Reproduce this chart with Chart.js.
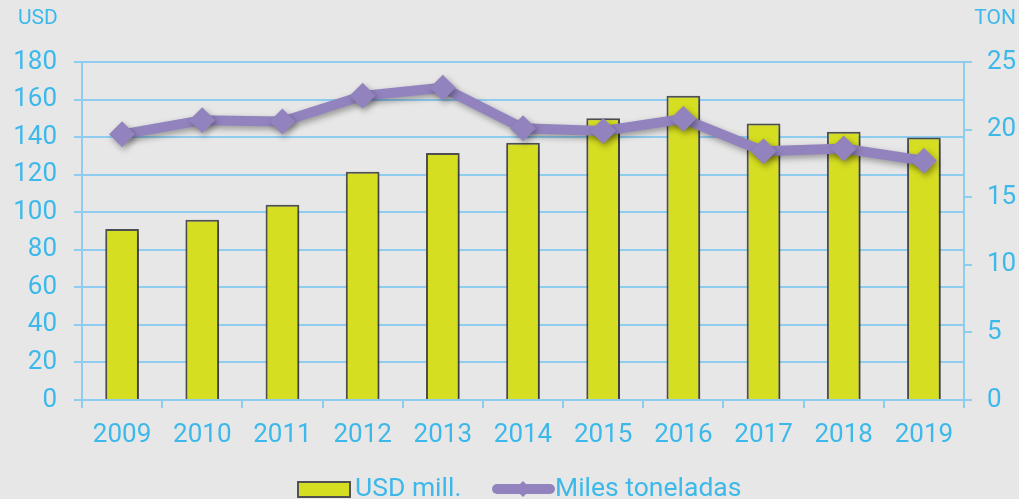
<!DOCTYPE html>
<html>
<head>
<meta charset="utf-8">
<script src="https://cdn.jsdelivr.net/npm/chart.js@4/dist/chart.umd.min.js"></script>
<style>
html,body{margin:0;padding:0;background:#e7e7e7;}
#wrap{width:1019px;height:499px;position:relative;}
</style>
</head>
<body>
<div id="wrap"><canvas id="c" width="1019" height="499"></canvas></div>
<script>
const categories = ['2009','2010','2011','2012','2013','2014','2015','2016','2017','2018','2019'];
const usdValues = [91, 96, 104, 121.5, 131.5, 137, 150, 162, 147.3, 142.8, 139.8];
const tonValues = [19.65, 20.7, 20.6, 22.5, 23.1, 20.1, 19.9, 20.8, 18.4, 18.6, 17.7];
const seriesLabels = ['USD mill.', 'Miles toneladas'];
const axisUnits = ['USD', 'TON'];

const TXT = '#3cb9ea';
const GRID = '#8fcdf0';
const BAR = '#d6de21';
const BAR_BORDER = '#505153';
const LINE = '#9283bf';
const FONT = 'Roboto';

const shadowPlugin = {
  id: 'shadow',
  beforeDatasetDraw(chart, args) {
    const ctx = chart.ctx;
    ctx.save();
    ctx.shadowColor = 'rgba(0,0,0,0.35)';
    ctx.shadowBlur = 6;
    ctx.shadowOffsetX = 2;
    ctx.shadowOffsetY = 3;
  },
  afterDatasetDraw(chart) {
    chart.ctx.restore();
  }
};

const extrasPlugin = {
  id: 'extras',
  afterDraw(chart) {
    const ctx = chart.ctx;
    ctx.save();
    ctx.fillStyle = TXT;
    ctx.textBaseline = 'middle';
    ctx.font = '21px ' + FONT;
    ctx.textAlign = 'left';
    ctx.fillText(axisUnits[0], 18, 19);
    ctx.textAlign = 'right';
    ctx.fillText(axisUnits[1], 1016, 19);

    // legend
    const ly = 489;
    ctx.font = '26.5px ' + FONT;
    ctx.textAlign = 'left';
    // bar entry
    ctx.fillStyle = BAR;
    ctx.strokeStyle = BAR_BORDER;
    ctx.lineWidth = 2;
    ctx.fillRect(298, 482, 52, 15);
    ctx.strokeRect(298, 482, 52, 15);
    ctx.fillStyle = TXT;
    ctx.fillText(seriesLabels[0], 355, ly);
    // line entry
    ctx.strokeStyle = LINE;
    ctx.lineWidth = 10;
    ctx.lineCap = 'round';
    ctx.beginPath();
    ctx.moveTo(497, ly);
    ctx.lineTo(550, ly);
    ctx.stroke();
    ctx.fillStyle = LINE;
    ctx.beginPath();
    ctx.moveTo(523, ly - 8);
    ctx.lineTo(531, ly);
    ctx.lineTo(523, ly + 8);
    ctx.lineTo(515, ly);
    ctx.closePath();
    ctx.fill();
    ctx.fillStyle = TXT;
    ctx.fillText(seriesLabels[1], 555, ly);
    ctx.restore();
  }
};

new Chart(document.getElementById('c'), {
  type: 'bar',
  data: {
    labels: categories,
    datasets: [
      {
        type: 'bar',
        label: seriesLabels[0],
        data: usdValues,
        backgroundColor: BAR,
        borderColor: BAR_BORDER,
        borderWidth: 2,
        barPercentage: 0.42,
        categoryPercentage: 1,
        yAxisID: 'y',
        order: 1
      },
      {
        type: 'line',
        label: seriesLabels[1],
        data: tonValues,
        borderColor: LINE,
        backgroundColor: LINE,
        borderWidth: 10,
        pointStyle: 'rectRot',
        pointRadius: 13,
        pointBorderWidth: 0,
        pointBackgroundColor: LINE,
        yAxisID: 'y1',
        order: 0,
        tension: 0
      }
    ]
  },
  options: {
    responsive: false,
    animation: false,
    devicePixelRatio: 1,
    layout: { padding: { top: 62, left: 0, right: 0, bottom: 0 } },
    plugins: { legend: { display: false }, tooltip: { enabled: false } },
    scales: {
      x: {
        offset: true,
        grid: { display: true, drawOnChartArea: false, offset: true, color: GRID, lineWidth: 2, tickLength: 8 },
        border: { display: true, color: GRID, width: 2 },
        ticks: { color: TXT, font: { family: FONT, size: 26 }, padding: 12, maxRotation: 0 },
        afterFit(s) { s.height = 99; }
      },
      y: {
        position: 'left',
        min: 0, max: 180,
        ticks: { stepSize: 20, color: TXT, font: { family: FONT, size: 26 }, padding: 17 },
        grid: { color: GRID, lineWidth: 2, tickLength: 8 },
        border: { display: true, color: GRID, width: 2 },
        afterFit(s) { s.width = 82; }
      },
      y1: {
        position: 'right',
        min: 0, max: 25,
        ticks: { stepSize: 5, color: TXT, font: { family: FONT, size: 26 }, padding: 15 },
        grid: { drawOnChartArea: false, color: GRID, lineWidth: 2, tickLength: 8 },
        border: { display: true, color: GRID, width: 2 },
        afterFit(s) { s.width = 55; }
      }
    }
  },
  plugins: [shadowPlugin, extrasPlugin]
});
</script>
</body>
</html>
